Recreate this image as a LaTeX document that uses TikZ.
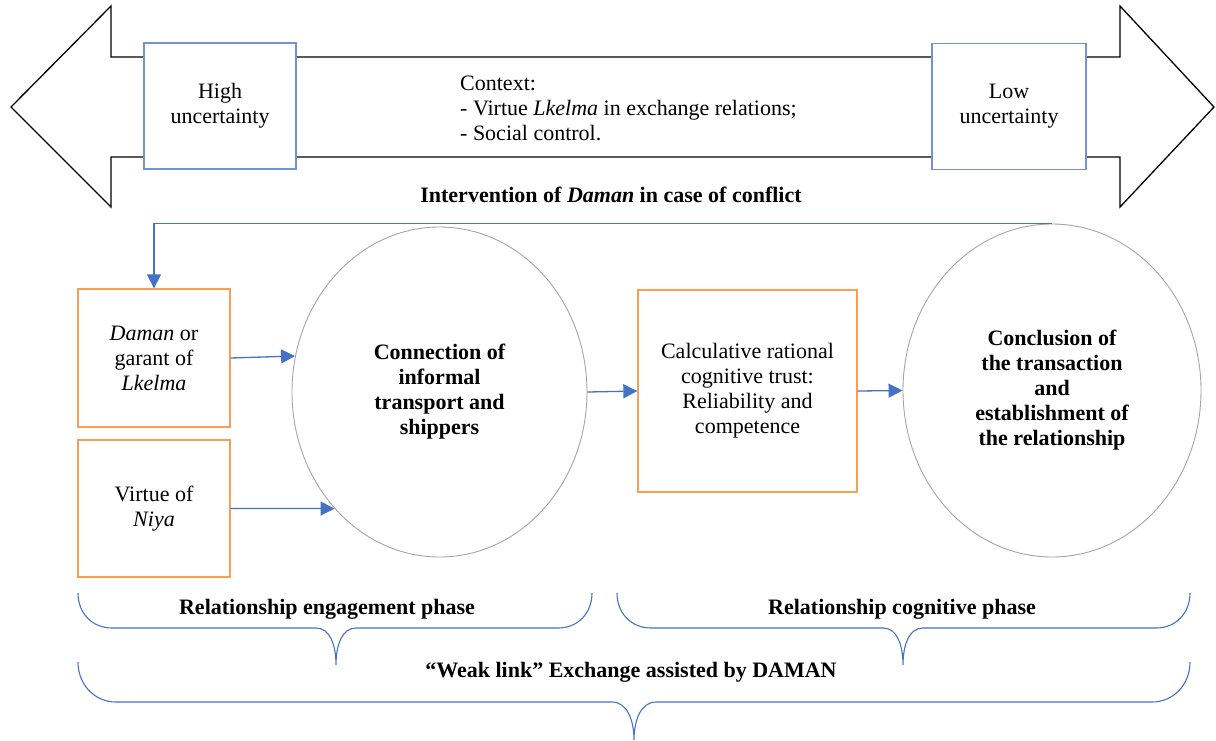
\documentclass[tikz,border=0pt]{standalone}
\usepackage{fontspec}
\setmainfont{Liberation Serif}
\usetikzlibrary{shapes.geometric,arrows.meta}
\definecolor{lineblue}{RGB}{68,114,196}
\definecolor{boxblue}{RGB}{114,148,204}
\definecolor{boxorange}{RGB}{245,160,90}
\definecolor{circgrey}{RGB}{165,165,165}
\begin{document}
\begin{tikzpicture}[x=1pt,y=-1pt,
  txt/.style={font=\fontsize{22}{25}\selectfont, align=center},
  btxt/.style={font=\fontsize{22}{25}\selectfont\bfseries, align=center},
  bluebox/.style={draw=boxblue, line width=1.3pt, fill=white, minimum width=152pt, minimum height=126pt, inner sep=0pt, txt},
  orangebox/.style={draw=boxorange, line width=1.3pt, fill=white, inner sep=0pt, txt},
  bubble/.style={ellipse, draw=circgrey, line width=0.9pt, inner sep=0pt, btxt},
  conn/.style={draw=lineblue, line width=1.3pt, -{Triangle[length=14pt,width=14pt]}},
  brace/.style={draw=lineblue, line width=1.1pt},
  dbl/.style={draw=black, line width=1.3pt, line join=miter}
]
\useasboundingbox (0,0) rectangle (1216,740);

% double-headed arrow
\draw[dbl] (11,107) -- (111,6) -- (111,57) -- (1120,57) -- (1120,6) -- (1214,107) -- (1120,207) -- (1120,157) -- (111,157) -- (111,207) -- cycle;

\node[bluebox] (high) at (220,106) {High\\uncertainty};
\node[bluebox, minimum width=154pt] (low) at (1009,106.5) {Low\\uncertainty};
\node[txt, align=left, anchor=west, inner sep=0pt] (ctx) at (460,108) {Context:\\- Virtue \textit{Lkelma} in exchange relations;\\- Social control.};
\node[btxt] (interv) at (611,195) {Intervention of \textit{Daman} in case of conflict};

% boxes and bubbles
\node[orangebox, minimum width=152pt, minimum height=138pt] (daman) at (154,358) {\textit{Daman} or\\garant of\\\textit{Lkelma}};
\node[orangebox, minimum width=152pt, minimum height=137pt] (niya) at (154,508.5) {Virtue of\\\textit{Niya}};
\node[orangebox, minimum width=219pt, minimum height=202pt] (calc) at (747.5,391) {Calculative rational\\cognitive trust:\\Reliability and\\competence};
\node[bubble, minimum width=295pt, minimum height=330pt] (connect) at (439.5,392) {Connection of\\informal\\transport and\\shippers};
\node[bubble, minimum width=298pt, minimum height=333pt] (concl) at (1052,390.5) {Conclusion of\\the transaction\\and\\establishment of\\the relationship};

% connectors
\draw[conn] (daman.east) -- (connect.166.8);
\draw[conn] (niya.east) -- (connect.228);
\draw[conn] (connect.east) -- (calc.west);
\draw[conn] (calc.east) -- (concl.west);
\draw[conn] (concl.north) -| (daman.north);

% braces
\draw[brace] (78,593) .. controls (78,613) and (92,628) .. (112,628) -- (316,628) .. controls (330,628) and (336,645) .. (336,665) .. controls (336,645) and (342,628) .. (356,628) -- (558,628) .. controls (578,628) and (592,613) .. (592,593);
\draw[brace] (617,593) .. controls (617,613) and (631,628) .. (651,628) -- (883,628) .. controls (897,628) and (903,645) .. (903,665) .. controls (903,645) and (909,628) .. (923,628) -- (1156,628) .. controls (1176,628) and (1190,613) .. (1190,593);
\draw[brace] (78,662) .. controls (78,684) and (94,702) .. (116,702) -- (612,702) .. controls (627,702) and (634,720) .. (634,740) .. controls (634,720) and (641,702) .. (656,702) -- (1152,702) .. controls (1174,702) and (1190,684) .. (1190,662);

\node[btxt] (lab1) at (327,609) {Relationship engagement phase};
\node[btxt] (lab2) at (902,609) {Relationship cognitive phase};
\node[btxt] (lab3) at (631,672) {“Weak link” Exchange assisted by DAMAN};
\end{tikzpicture}
\end{document}
